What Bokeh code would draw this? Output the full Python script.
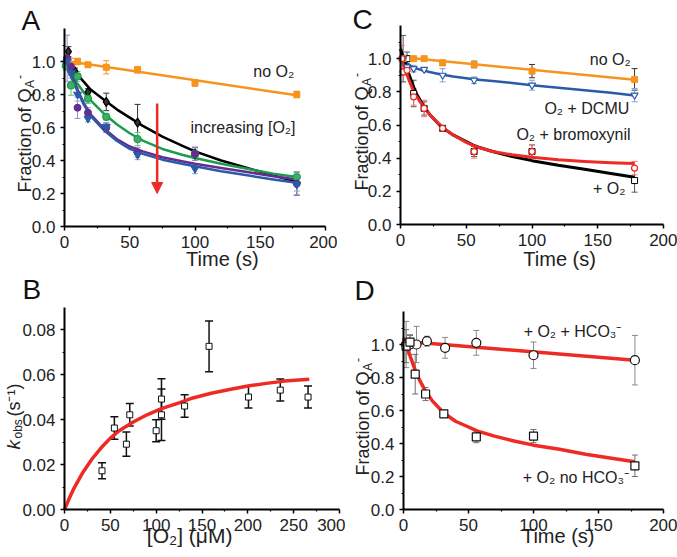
import math
from bokeh.plotting import figure
from bokeh.layouts import column, row
from bokeh.models import (Range1d, FixedTicker, NumeralTickFormatter, Label, Whisker,
                          TeeHead, ColumnDataSource, Arrow, NormalHead)
from bokeh.embed import file_html
from bokeh.resources import INLINE

FONT = "Liberation Sans"
ORANGE = "#F7941D"
GREEN = "#1B9E4B"
PURPLE = "#662D91"
BLUE = "#2B5BA8"
RED = "#EE2A24"

# ---------------- Panel A data ----------------
tA_or = [2, 10, 18, 32, 56, 100, 178]
yA_or = [1.0, 1.0, 0.98, 0.965, 0.95, 0.87, 0.80]
eA_or = [0.02, 0.02, 0.015, 0.04, 0.02, 0.02, 0.02]
tA_bk = [3, 8, 18, 32, 56, 100, 178]
yA_bk = [1.06, 0.94, 0.815, 0.755, 0.63, 0.44, 0.26]
eA_bk = [0.03, 0.02, 0.02, 0.053, 0.11, 0.04, 0.07]
tA_gr = [1, 5, 10, 18, 32, 56, 100, 178]
yA_gr = [0.975, 0.855, 0.91, 0.775, 0.665, 0.53, 0.44, 0.30]
eA_gr = [0.03, 0.06, 0.03, 0.03, 0.02, 0.04, 0.03, 0.03]
tA_pu = [2, 5, 10, 18, 32, 56, 100, 178]
yA_pu = [1.02, 0.97, 0.72, 0.69, 0.60, 0.45, 0.44, 0.26]
eA_pu = [0.14, 0.05, 0.065, 0.03, 0.03, 0.03, 0.04, 0.07]
tA_bl = [2, 5, 10, 18, 32, 56, 100, 178]
yA_bl = [1.0, 0.93, 0.80, 0.655, 0.605, 0.435, 0.35, 0.255]
eA_bl = [0.02, 0.03, 0.04, 0.02, 0.02, 0.03, 0.03, 0.04]
# fitted curves
tfit = [0, 5, 10, 15, 20, 30, 40, 50, 60, 75, 90, 100, 120, 140, 160, 178]
fA_bk = [1.03, 0.97, 0.92, 0.875, 0.83, 0.77, 0.71, 0.66, 0.61, 0.545, 0.49, 0.455, 0.40, 0.355, 0.31, 0.27]
fA_gr = [1.0, 0.93, 0.865, 0.81, 0.765, 0.685, 0.62, 0.565, 0.52, 0.47, 0.435, 0.415, 0.38, 0.35, 0.32, 0.30]
fA_pu = [1.03, 0.93, 0.83, 0.745, 0.68, 0.595, 0.53, 0.485, 0.455, 0.42, 0.395, 0.38, 0.355, 0.33, 0.305, 0.285]
fA_bl = [1.0, 0.91, 0.82, 0.735, 0.67, 0.585, 0.52, 0.47, 0.44, 0.405, 0.38, 0.365, 0.335, 0.31, 0.285, 0.265]
tlin = [0, 178]
fA_or = [1.005, 0.795]

# ---------------- Panel C data ----------------
tC_or = [2, 10, 18, 32, 56, 100, 178]
yC_or = [1.0, 1.0, 1.0, 0.975, 0.965, 0.925, 0.875]
eC_or = [0.02, 0.01, 0.01, 0.015, 0.02, 0.04, 0.065]
tC_bl = [2, 5, 10, 18, 32, 56, 100, 178]
yC_bl = [1.0, 0.95, 0.94, 0.935, 0.90, 0.87, 0.84, 0.78]
eC_bl = [0.02, 0.02, 0.02, 0.01, 0.04, 0.02, 0.03, 0.04]
tC_rd = [1, 2, 5, 10, 18, 32, 56, 100, 178]
yC_rd = [1.0, 0.92, 0.93, 0.77, 0.70, 0.58, 0.44, 0.44, 0.34]
eC_rd = [0.08, 0.02, 0.02, 0.05, 0.05, 0.01, 0.04, 0.04, 0.04]
tC_bk = [2, 5, 10, 18, 32, 56, 100, 178]
yC_bk = [1.0, 1.0, 0.79, 0.70, 0.58, 0.44, 0.44, 0.265]
eC_bk = [0.14, 0.04, 0.08, 0.04, 0.01, 0.03, 0.04, 0.07]
tfit2 = [0, 3, 6, 9, 12, 17, 22, 31, 40, 50, 57, 70, 85, 100, 120, 140, 160, 178]
fC_rd = [1.0, 0.95, 0.88, 0.82, 0.775, 0.715, 0.665, 0.59, 0.54, 0.495, 0.47, 0.44, 0.42, 0.405, 0.39, 0.38, 0.373, 0.368]
fC_bk = [1.06, 0.985, 0.915, 0.85, 0.79, 0.72, 0.665, 0.59, 0.54, 0.50, 0.472, 0.44, 0.41, 0.385, 0.357, 0.333, 0.308, 0.285]
fC_bl = [1.02, 0.99, 0.965, 0.95, 0.94, 0.93, 0.92, 0.905, 0.893, 0.882, 0.875, 0.865, 0.853, 0.84, 0.825, 0.81, 0.795, 0.778]
fC_or = [1.01, 0.873]

# ---------------- Panel D data ----------------
tD_ci = [2, 5, 10, 18, 32, 56, 100, 178]
yD_ci = [1.0, 1.0, 1.0, 1.02, 0.98, 1.01, 0.935, 0.905]
eD_ci = [0.14, 0.06, 0.11, 0.03, 0.063, 0.075, 0.08, 0.15]
tD_sq = [2, 5, 9, 17, 31, 56, 100, 178]
yD_sq = [0.99, 1.015, 0.82, 0.70, 0.58, 0.44, 0.445, 0.265]
eD_sq = [0.10, 0.04, 0.12, 0.04, 0.01, 0.035, 0.04, 0.065]
fD_ci = [1.02, 0.905]
fD_sq = [1.04, 0.975, 0.91, 0.845, 0.79, 0.715, 0.66, 0.585, 0.535, 0.50, 0.475, 0.445, 0.415, 0.39, 0.365, 0.335, 0.31, 0.29]

# ---------------- Panel B data ----------------
xB = [40.9, 54.4, 67.5, 71.2, 100, 105.8, 105.8, 131, 157.7, 200.7, 235.4, 265.7]
yB = [0.01725, 0.0363, 0.0291, 0.0422, 0.0351, 0.0492, 0.0422, 0.0461, 0.0727, 0.0501, 0.0532, 0.0501]
eB = [0.0036, 0.005, 0.0054, 0.005, 0.0049, 0.009, 0.0115, 0.005, 0.0113, 0.0049, 0.0049, 0.0049]
xBfit = [0, 5, 10, 20, 30, 40, 50, 60, 75, 90, 105, 125, 140, 160, 180, 200, 220, 240, 267]
yBfit = [0, 0.0048, 0.0092, 0.0165, 0.0225, 0.0275, 0.0318, 0.0352, 0.039, 0.0422, 0.0448,
         0.0475, 0.0497, 0.0518, 0.0535, 0.055, 0.0562, 0.0572, 0.058]

time_ticks = [0, 50, 100, 150, 200]
time_minor = [25, 75, 125, 175]
frac_ticks = [0, 0.2, 0.4, 0.6, 0.8, 1.0]
frac_minor = [0.1, 0.3, 0.5, 0.7, 0.9, 1.1]
o2_ticks = [0, 50, 100, 150, 200, 250, 300]
o2_minor = [25, 75, 125, 175, 225, 275]
k_ticks = [0, 0.02, 0.04, 0.06, 0.08]
k_minor = [0.01, 0.03, 0.05, 0.07]


def make_fig(canvas, frame, xr, yr, xt, xmt, yt, ymt, yfmt):
    """canvas=(x0, y0, w, h) in page px; frame=(L, R, T, B) page px of the data box."""
    cx0, cy0, w, h = canvas
    L, R, T, B = frame
    x0, x1 = xr
    y0, y1 = yr
    sx = (R - L) / (x1 - x0)
    sy = (B - T) / (y1 - y0)
    xs = x0 - (L - cx0) / sx
    xe = x0 + (cx0 + w - L) / sx
    ys = y0 - (cy0 + h - B) / sy
    ye = y0 + (B - cy0) / sy
    p = figure(width=w, height=h, x_range=Range1d(xs, xe), y_range=Range1d(ys, ye),
               output_backend="svg", toolbar_location=None, min_border=0)
    p.title.visible = False
    p.outline_line_color = None
    p.xgrid.visible = False
    p.ygrid.visible = False
    p.xaxis.ticker = FixedTicker(ticks=xt, minor_ticks=xmt)
    p.yaxis.ticker = FixedTicker(ticks=yt, minor_ticks=ymt)
    p.xaxis.formatter = NumeralTickFormatter(format="0")
    p.yaxis.formatter = NumeralTickFormatter(format=yfmt)
    p.xaxis.fixed_location = y0
    p.yaxis.fixed_location = x0
    p.xaxis.bounds = (x0, x1)
    p.yaxis.bounds = (y0, y1)
    for ax in (p.xaxis, p.yaxis):
        ax.axis_line_width = 2
        ax.axis_line_color = "black"
        ax.major_tick_line_width = 1.5
        ax.minor_tick_line_width = 1.2
        ax.major_tick_in = 0
        ax.major_tick_out = 4
        ax.minor_tick_in = 0
        ax.minor_tick_out = 2
        ax.major_label_text_font = FONT
        ax.major_label_text_font_size = "17px"
        ax.major_label_text_color = "#222222"
        ax.major_label_standoff = 5
    return p


def lab(p, x, y, text, size="16px", xo=0, yo=0, angle=0, align="left", baseline="middle",
        style="normal", color="#222222"):
    p.add_layout(Label(x=x, y=y, text=text, x_offset=xo, y_offset=yo, angle=angle,
                       text_font=FONT, text_font_size=size, text_align=align,
                       text_baseline=baseline, text_font_style=style, text_color=color))


def errbars(p, t, y, e, color, width=1, head=6):
    src = ColumnDataSource(dict(base=t, upper=[a + b for a, b in zip(y, e)],
                                lower=[a - b for a, b in zip(y, e)]))
    w = Whisker(source=src, base="base", upper="upper", lower="lower", line_color=color,
                line_width=width, level="underlay",
                upper_head=TeeHead(size=head, line_color=color, line_width=width),
                lower_head=TeeHead(size=head, line_color=color, line_width=width))
    p.add_layout(w)


UP = math.pi / 2


def frac_label(p, xc, yo):
    lab(p, 0, 0, "Fraction of Q", "18px", xc, yo, UP, "left", "middle")
    lab(p, 0, 0, "A", "12px", xc + 5, yo + 104.5, UP, "left", "middle")
    lab(p, 0, 0, "-", "12px", xc - 6, yo + 113.5, UP, "left", "middle")


def title_x(p, x, text, yo, size="20px"):
    lab(p, x, 0, text, size, 0, yo, 0, "center", "middle")


def letter(p, text, xo, yo):
    lab(p, 0, 0, text, "28px", xo, yo, 0, "left", "middle", color="#111111")


ROW1 = 270
ROW2 = 557 - ROW1

# ================= Panel A =================
pA = make_fig((0, 0, 337, ROW1), (64, 325, 28, 226), (0, 200), (0, 1.2),
              time_ticks, time_minor, frac_ticks, frac_minor, "0.0")
errbars(pA, tA_or, yA_or, eA_or, ORANGE)
errbars(pA, tA_bk, yA_bk, eA_bk, "#333333")
errbars(pA, tA_gr, yA_gr, eA_gr, "#6DBF83")
errbars(pA, tA_pu, yA_pu, eA_pu, "#A489C9")
errbars(pA, tA_bl, yA_bl, eA_bl, "#86A9DA")
pA.line(tlin, fA_or, line_color=ORANGE, line_width=2.5)
pA.line(tfit, fA_bk, line_color="black", line_width=2.5, line_join="round")
pA.line(tfit, fA_gr, line_color=GREEN, line_width=2.5, line_join="round")
pA.line(tfit, fA_pu, line_color=PURPLE, line_width=2.5, line_join="round")
pA.line(tfit, fA_bl, line_color=BLUE, line_width=2.5, line_join="round")
pA.scatter(tA_or, yA_or, marker="square", size=6, fill_color=ORANGE, line_color=ORANGE)
pA.scatter(tA_bk, yA_bk, marker="diamond", size=9, fill_color="#333333", line_color="black", line_width=1.2)
pA.scatter(tA_gr, yA_gr, marker="circle", size=7, fill_color="#3DB067", line_color=GREEN, line_width=1.2)
pA.scatter(tA_pu, yA_pu, marker="circle", size=7, fill_color=PURPLE, line_color=PURPLE)
pA.scatter(tA_bl, yA_bl, marker="inverted_triangle", size=8, fill_color=BLUE, line_color=BLUE)
pA.add_layout(Arrow(x_start=71, y_start=0.745, x_end=71, y_end=0.2, line_color=RED, line_width=2.5,
                    end=NormalHead(size=11, fill_color=RED, line_color=RED, line_width=1)))
lab(pA, 176, 0.9375, "no O₂", align="right")
lab(pA, 177, 0.60, "increasing [O₂]", align="right")
frac_label(pA, -39.5, 34)
title_x(pA, 121, "Time (s)", -32)
letter(pA, "A", -43, 206)

# ================= Panel C =================
pC = make_fig((337, 0, 340, ROW1), (400, 663, 25, 224), (0, 200), (0, 1.2),
              time_ticks, time_minor, frac_ticks, frac_minor, "0.0")
errbars(pC, tC_bk, yC_bk, eC_bk, "#555555")
errbars(pC, tC_or, yC_or, eC_or, "#333333")
errbars(pC, tC_bl, yC_bl, eC_bl, "#7FA3D6")
errbars(pC, tC_rd, yC_rd, eC_rd, "#F07A78")
pC.line(tlin, fC_or, line_color=ORANGE, line_width=2.5)
pC.line(tfit2, fC_bl, line_color=BLUE, line_width=2.5, line_join="round")
pC.line(tfit2, fC_bk, line_color="black", line_width=3, line_join="round")
pC.line(tfit2, fC_rd, line_color=RED, line_width=3, line_join="round")
pC.scatter(tC_bk, yC_bk, marker="square", size=6, fill_color="white", line_color="black", line_width=1)
pC.scatter(tC_or, yC_or, marker="square", size=6, fill_color=ORANGE, line_color=ORANGE)
pC.scatter(tC_bl, yC_bl, marker="inverted_triangle", size=7, fill_color="white", line_color=BLUE, line_width=1.2)
pC.scatter(tC_rd, yC_rd, marker="circle", size=6, fill_color="white", line_color=RED, line_width=1.2)
lab(pC, 175, 0.994, "no O₂", align="right")
lab(pC, 174, 0.70, "O₂ + DCMU", align="right")
lab(pC, 175, 0.54, "O₂ + bromoxynil", align="right")
lab(pC, 171, 0.216, "+ O₂", align="right")
frac_label(pC, -38.5, 34)
title_x(pC, 121, "Time (s)", -34)
letter(pC, "C", -48, 205)

# ================= Panel B =================
pB = make_fig((0, ROW1, 345, ROW2), (64, 339, 307, 509), (0, 300), (0, 0.09),
              o2_ticks, o2_minor, k_ticks, k_minor, "0.00")
errbars(pB, xB, yB, eB, "#111111", width=1.5, head=8)
pB.line(xBfit, yBfit, line_color=RED, line_width=3.5, line_join="round")
pB.scatter(xB, yB, marker="square", size=6, fill_color="white", line_color="#111111", line_width=1)
lab(pB, 0, 0, "k", "19px", -51, 60, UP, "left", "middle", style="italic")
lab(pB, 0, 0, "obs", "12px", -46.5, 71, UP, "left", "middle")
lab(pB, 0, 0, "(s⁻¹)", "18px", -51, 93, UP, "left", "middle")
title_x(pB, 136.5, "[O₂] (μM)", -26, "21px")
letter(pB, "B", -42, 220)

# ================= Panel D =================
pD = make_fig((345, ROW1, 332, ROW2), (403, 663, 311, 509), (0, 200), (0, 1.2),
              time_ticks, time_minor, frac_ticks, frac_minor, "0.0")
errbars(pD, tD_ci, yD_ci, eD_ci, "#8A8A8A")
errbars(pD, tD_sq, yD_sq, eD_sq, "#6F6F6F")
pD.line(tlin, fD_ci, line_color=RED, line_width=3.5)
pD.line(tfit2, fD_sq, line_color=RED, line_width=3.5, line_join="round")
pD.scatter(tD_ci, yD_ci, marker="circle", size=9, fill_color="white", line_color="#111111", line_width=1.2)
pD.scatter(tD_sq, yD_sq, marker="square", size=8, fill_color="white", line_color="#111111", line_width=1.2)
lab(pD, 130, 1.08, "+ O₂ + HCO₃⁻", align="center")
lab(pD, 132.6, 0.194, "+ O₂ no HCO₃⁻", align="center")
frac_label(pD, -40.5, 34)
title_x(pD, 119, "Time (s)", -26)
letter(pD, "D", -49, 219)

layout = column(row(pA, pC), row(pB, pD))
open("out.html", "w").write(file_html(layout, INLINE))
